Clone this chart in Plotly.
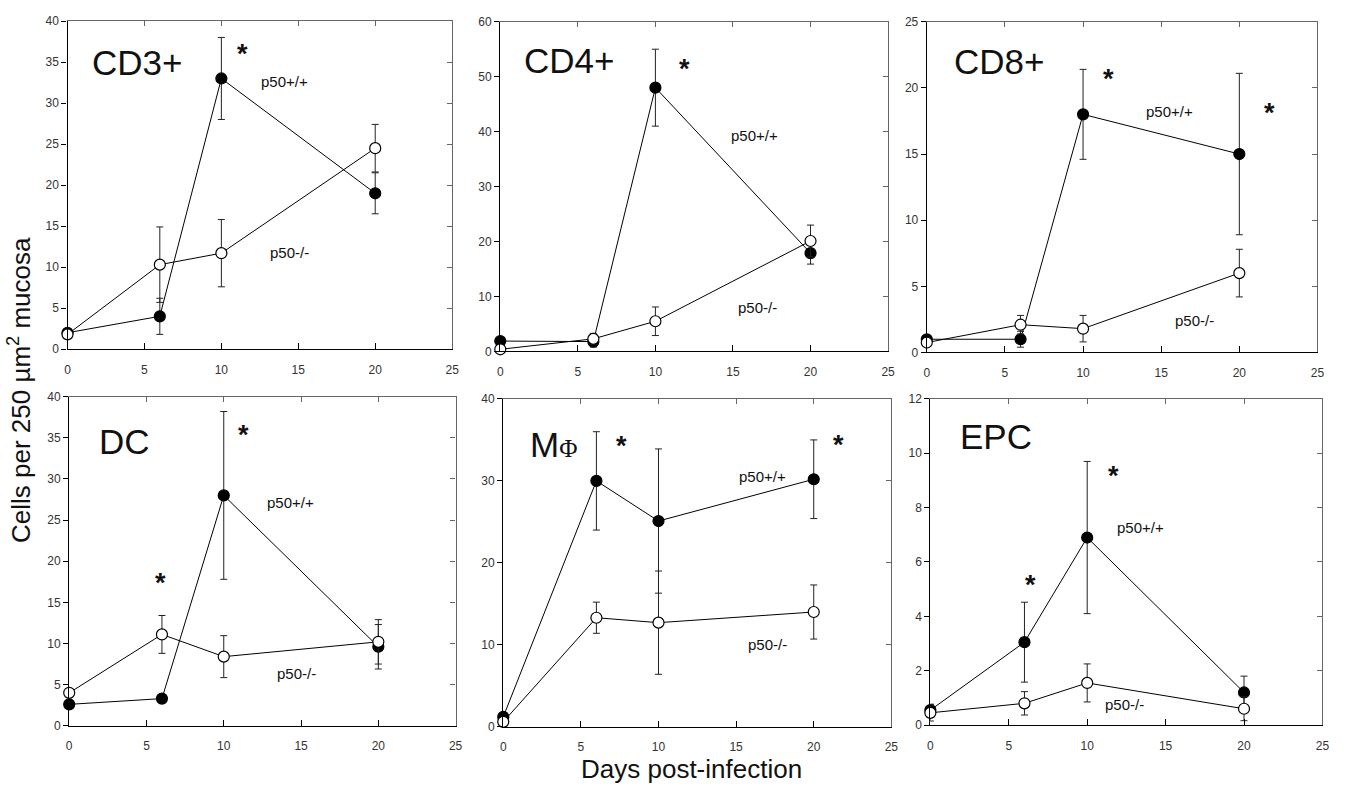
import plotly.graph_objects as go

days = [0, 6, 10, 20]

# values: (wild type p50+/+ filled, knockout p50-/- open)
cd3_wt = [2.0, 4.0, 33.0, 19.0];   cd3_wt_err = [0.3, 2.2, 5.0, 2.5]
cd3_ko = [1.8, 10.3, 11.7, 24.5];  cd3_ko_err = [0.3, 4.6, 4.1, 2.9]
cd4_wt = [1.9, 1.8, 48.0, 17.9];   cd4_wt_err = [0.3, 1.0, 7.0, 2.0]
cd4_ko = [0.4, 2.3, 5.5, 20.1];    cd4_ko_err = [0.2, 1.0, 2.6, 2.9]
cd8_wt = [1.0, 1.0, 18.0, 15.0];   cd8_wt_err = [0.1, 0.6, 3.4, 6.1]
cd8_ko = [0.75, 2.1, 1.8, 6.0];    cd8_ko_err = [0.1, 0.7, 1.0, 1.8]
dc_wt = [2.6, 3.3, 28.0, 9.6];     dc_wt_err = [0.4, 0.5, 10.2, 2.7]
dc_ko = [4.0, 11.1, 8.4, 10.2];    dc_ko_err = [0.4, 2.3, 2.55, 2.7]
mf_wt = [1.2, 30.0, 25.1, 30.2];   mf_wt_err = [0.3, 6.0, 8.8, 4.8]
mf_ko = [0.6, 13.3, 12.7, 14.0];   mf_ko_err = [0.2, 1.9, 6.3, 3.3]
epc_wt = [0.55, 3.05, 6.9, 1.2];   epc_wt_err = [0.22, 1.47, 2.8, 0.6]
epc_ko = [0.45, 0.8, 1.55, 0.6];   epc_ko_err = [0.3, 0.43, 0.7, 0.44]

panel_titles = ["CD3+", "CD4+", "CD8+", "DC",
                "M<span style='font-family:Liberation Serif;font-size:25px'>Φ</span>", "EPC"]
y_max = [40, 60, 25, 40, 40, 12]
y_step = [5, 10, 5, 5, 10, 2]
x_ticks = [0, 5, 10, 15, 20, 25]

series = [
    (cd3_wt, cd3_wt_err, cd3_ko, cd3_ko_err),
    (cd4_wt, cd4_wt_err, cd4_ko, cd4_ko_err),
    (cd8_wt, cd8_wt_err, cd8_ko, cd8_ko_err),
    (dc_wt, dc_wt_err, dc_ko, dc_ko_err),
    (mf_wt, mf_wt_err, mf_ko, mf_ko_err),
    (epc_wt, epc_wt_err, epc_ko, epc_ko_err),
]

# title position, asterisks, genotype label positions (data coords)
title_pos = [(4.5, 35.0), (4.4, 52.9), (4.6, 22.0), (3.55, 34.5), (3.26, 34.5), (4.16, 10.6)]
stars = [[(11.4, 36.0)], [(11.9, 51.4)], [(11.65, 20.7), (21.9, 18.1)],
         [(11.25, 35.4), (5.9, 17.3)], [(7.6, 34.2), (21.6, 34.4)], [(11.7, 9.18), (6.4, 5.17)]]
wt_label = [(14.1, 32.6), (16.4, 39.3), (15.5, 18.2), (14.3, 27.1), (16.7, 30.5), (13.4, 7.26)]
ko_label = [(14.4, 11.8), (16.6, 8.0), (17.1, 2.4), (14.7, 6.3), (17.0, 10.0), (12.4, 0.76)]

W, H = 1347, 791
# pixel boxes of plot areas: (left, right, top, bottom)
boxes = [(65, 452.5, 14.3, 348.3), (501, 891.7, 15, 350.7), (930.7, 1324.3, 15, 351.7),
         (66.7, 456, 396.7, 731.7), (504, 895, 399, 732.7), (934.3, 1329.3, 399, 731)]

fig = go.Figure()
FONT = "Liberation Sans, Arial"
tickfont = dict(family=FONT, size=12, color="#333")
annos = []

for i in range(6):
    n = i + 1
    xa = "x" if n == 1 else f"x{n}"
    ya = "y" if n == 1 else f"y{n}"
    wt, wte, ko, koe = series[i]
    for vals, errs, fill in ((wt, wte, "black"), (ko, koe, "white")):
        fig.add_trace(go.Scatter(
            x=days, y=vals, xaxis=xa, yaxis=ya, mode="lines+markers",
            line=dict(color="black", width=1),
            marker=dict(size=11, color=fill, line=dict(color="black", width=1.2)),
            error_y=dict(type="data", array=errs, visible=True, color="#222",
                         thickness=1, width=3.5),
            cliponaxis=False, showlegend=False, hoverinfo="skip"))
    # invisible trace to make the top/right frame axes render
    fig.add_trace(go.Scatter(x=[None], y=[None], xaxis=f"x{n + 6}", yaxis=f"y{n + 6}",
                             mode="markers", showlegend=False, hoverinfo="skip"))
    l, r, t, b = boxes[i]
    xd = [l / W, r / W]
    yd = [1 - b / H, 1 - t / H]
    yt = list(range(0, y_max[i] + 1, y_step[i]))
    fig.layout[f"xaxis{n}"] = dict(
        domain=xd, anchor=ya, range=[0, 25], tickvals=x_ticks, ticks="inside",
        ticklen=6, tickcolor="black", showline=True, linecolor="black", linewidth=1.3,
        showgrid=False, zeroline=False, tickfont=tickfont, ticklabelstandoff=9)
    fig.layout[f"yaxis{n}"] = dict(
        domain=yd, anchor=xa, range=[0, y_max[i]], tickvals=yt, ticks="outside",
        ticklen=5, tickcolor="black", showline=True, linecolor="black", linewidth=1.3,
        showgrid=False, zeroline=False, tickfont=tickfont)
    # top and right frame with inward ticks
    fig.layout[f"xaxis{n + 6}"] = dict(
        overlaying=xa, anchor=f"y{n + 6}", side="top", range=[0, 25], tickvals=x_ticks,
        ticks="inside", ticklen=5, tickcolor="#666", showline=True, linecolor="#666",
        linewidth=1.3, showticklabels=False, showgrid=False, zeroline=False)
    fig.layout[f"yaxis{n + 6}"] = dict(
        overlaying=ya, anchor=f"x{n + 6}", side="right", range=[0, y_max[i]], tickvals=yt,
        ticks="inside", ticklen=5, tickcolor="#666", showline=True, linecolor="#666",
        linewidth=1.3, showticklabels=False, showgrid=False, zeroline=False)

    base = dict(xref=xa, yref=ya, showarrow=False, xanchor="center", yanchor="middle")
    annos.append(dict(base, x=title_pos[i][0], y=title_pos[i][1], text=panel_titles[i],
                      font=dict(family=FONT, size=35, color="#111")))
    for sx, sy in stars[i]:
        annos.append(dict(base, x=sx, y=sy, text="<b>*</b>",
                          font=dict(family=FONT, size=27, color="#111")))
    annos.append(dict(base, x=wt_label[i][0], y=wt_label[i][1], text="p50+/+",
                      font=dict(family=FONT, size=15, color="#111")))
    annos.append(dict(base, x=ko_label[i][0], y=ko_label[i][1], text="p50-/-",
                      font=dict(family=FONT, size=15, color="#111")))

annos.append(dict(xref="paper", yref="paper", x=16 / W, y=1 - 390 / H, showarrow=False,
                  text="Cells per 250 µm<sup>2</sup> mucosa", textangle=-90,
                  xanchor="center", yanchor="middle",
                  font=dict(family=FONT, size=26, color="#111")))
annos.append(dict(xref="paper", yref="paper", x=694 / W, y=1 - 776 / H, showarrow=False,
                  text="Days post-infection", xanchor="center", yanchor="middle",
                  font=dict(family=FONT, size=26, color="#111")))

fig.update_layout(width=W, height=H, margin=dict(l=0, r=0, t=0, b=0),
                  paper_bgcolor="white", plot_bgcolor="white", annotations=annos)
fig.write_html("out.html")
